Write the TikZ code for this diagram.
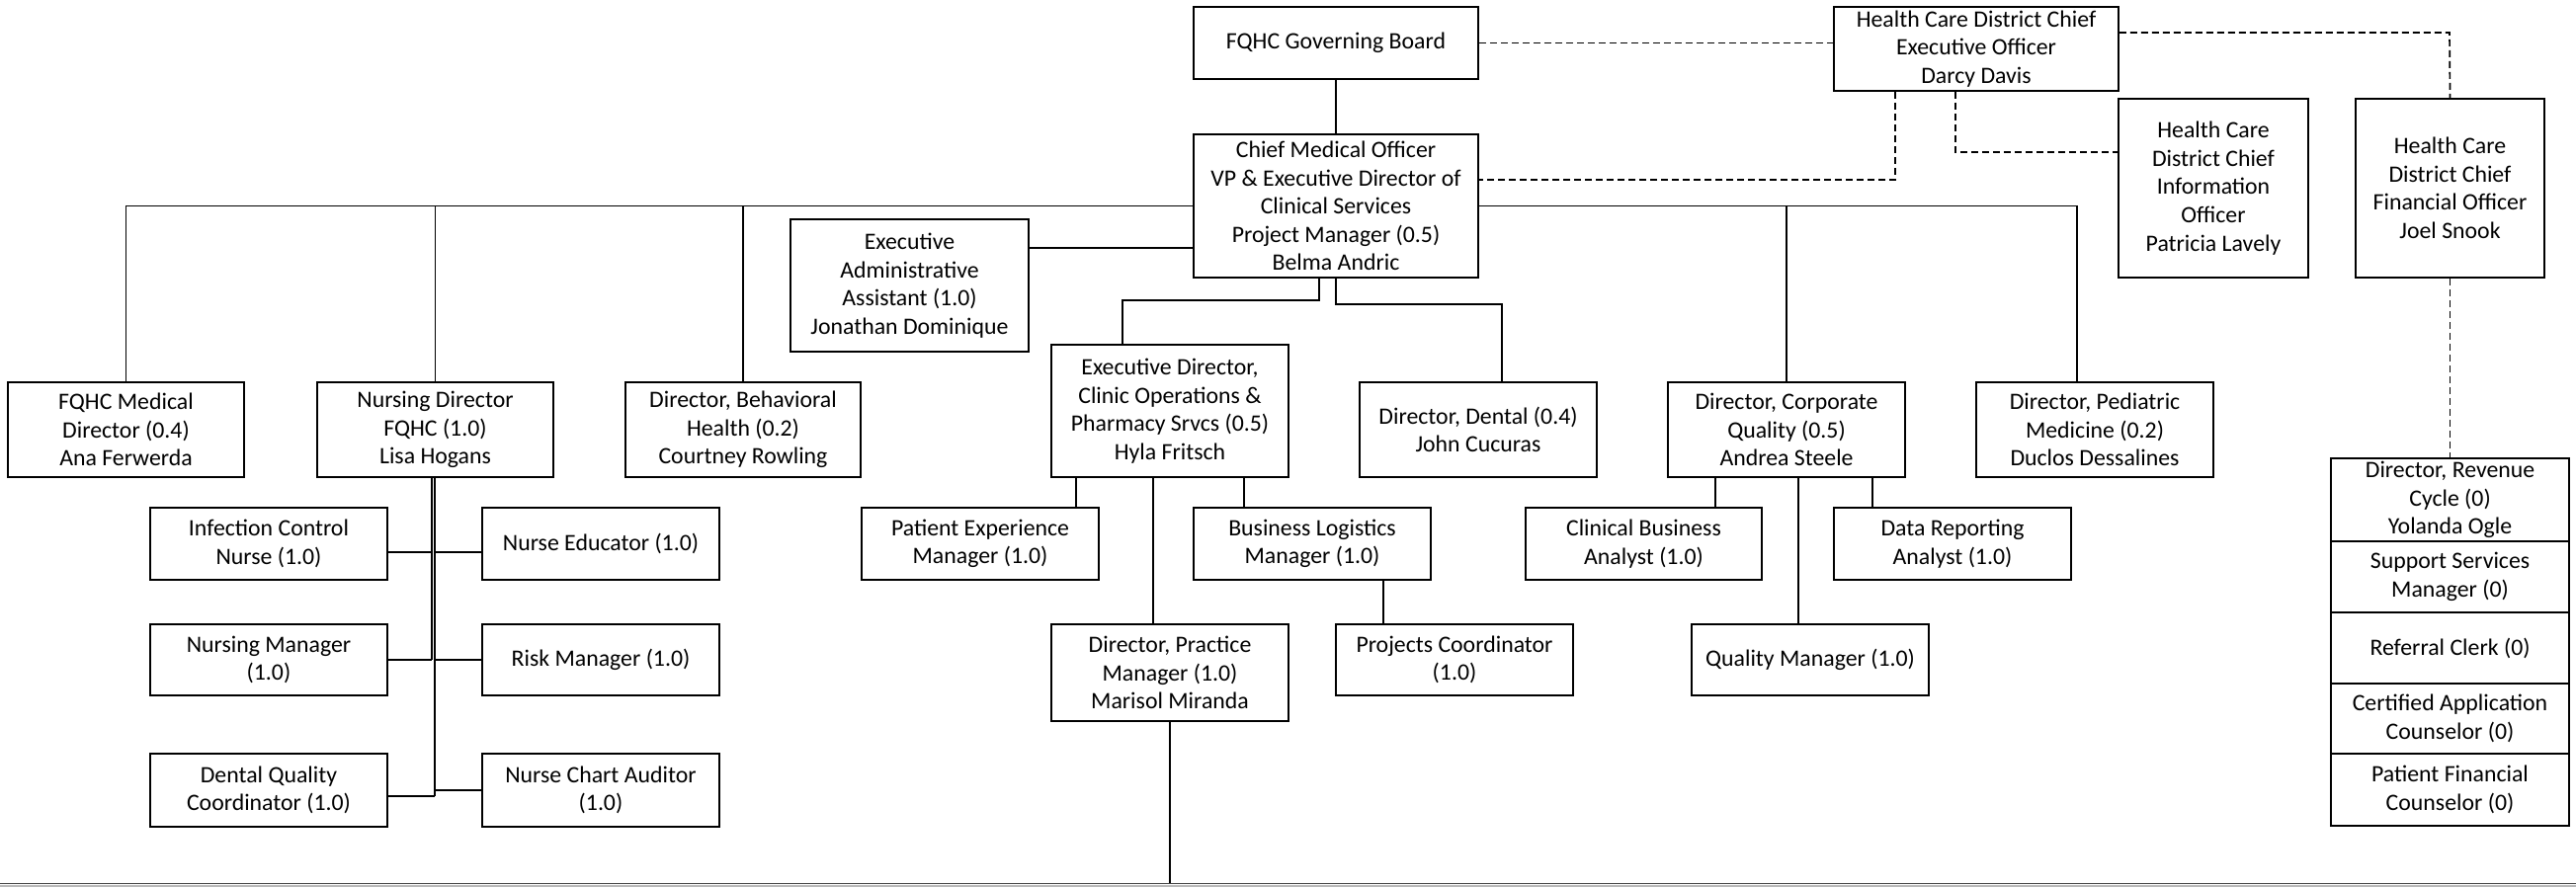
\documentclass[tikz,border=0pt]{standalone}
\usepackage{fontspec}
\setmainfont{Carlito}
\begin{document}
\begin{tikzpicture}[x=1pt,y=-1pt,
  box/.style={draw=black, line width=1.8pt, inner sep=0pt, align=center, fill=white,
    font=\fontsize{23.8}{28.6}\selectfont},
  conn/.style={draw=black, line width=1.7pt},
  dsh/.style={draw=black, line width=1.7pt, dash pattern=on 7pt off 4pt}]
\newcommand\orgbox[6]{\node[box, minimum width={#4-#2}, minimum height={#5-#3}] (#1) at ({(#2+#4)/2},{(#3+#5)/2}) {#6};}
\useasboundingbox (0,0) rectangle (2607,898);
\fill[white] (0,0) rectangle (2607,898);
% boxes
\orgbox{gov}{1208}{7}{1496}{80}{FQHC Governing Board}
\orgbox{cmo}{1208}{136}{1496}{281}{Chief Medical Officer\\VP \& Executive Director of\\Clinical Services\\Project Manager (0.5)\\Belma Andric}
\orgbox{ceo}{1856}{7}{2144}{92}{Health Care District Chief\\Executive Officer\\Darcy Davis}
\orgbox{cio}{2144}{100}{2336}{281}{Health Care\\District Chief\\Information\\Officer\\Patricia Lavely}
\orgbox{cfo}{2384}{100}{2575}{281}{Health Care\\District Chief\\Financial Officer\\Joel Snook}
\orgbox{eaa}{800}{222}{1041}{356}{Executive\\Administrative\\Assistant (1.0)\\Jonathan Dominique}
\orgbox{med}{8}{387}{247}{483}{FQHC Medical\\Director (0.4)\\Ana Ferwerda}
\orgbox{nur}{321}{387}{560}{483}{Nursing Director\\FQHC (1.0)\\Lisa Hogans}
\orgbox{beh}{633}{387}{871}{483}{Director, Behavioral\\Health (0.2)\\Courtney Rowling}
\orgbox{edc}{1064}{349}{1304}{483}{Executive Director,\\Clinic Operations \&\\Pharmacy Srvcs (0.5)\\Hyla Fritsch}
\orgbox{den}{1376}{387}{1616}{483}{Director, Dental (0.4)\\John Cucuras}
\orgbox{cq}{1688}{387}{1928}{483}{Director, Corporate\\Quality (0.5)\\Andrea Steele}
\orgbox{ped}{2000}{387}{2240}{483}{Director, Pediatric\\Medicine (0.2)\\Duclos Dessalines}
\orgbox{icn}{152}{514}{392}{587}{Infection Control\\Nurse (1.0)}
\orgbox{ned}{488}{514}{728}{587}{Nurse Educator (1.0)}
\orgbox{nm}{152}{632}{392}{704}{Nursing Manager\\(1.0)}
\orgbox{rm}{488}{632}{728}{704}{Risk Manager (1.0)}
\orgbox{dqc}{152}{763}{392}{837}{Dental Quality\\Coordinator (1.0)}
\orgbox{nca}{488}{763}{728}{837}{Nurse Chart Auditor\\(1.0)}
\orgbox{pem}{872}{514}{1112}{587}{Patient Experience\\Manager (1.0)}
\orgbox{blm}{1208}{514}{1448}{587}{Business Logistics\\Manager (1.0)}
\orgbox{dpm}{1064}{632}{1304}{730}{Director, Practice\\Manager (1.0)\\Marisol Miranda}
\orgbox{pc}{1352}{632}{1592}{704}{Projects Coordinator\\(1.0)}
\orgbox{cba}{1544}{514}{1783}{587}{Clinical Business\\Analyst (1.0)}
\orgbox{dra}{1856}{514}{2096}{587}{Data Reporting\\Analyst (1.0)}
\orgbox{qm}{1712}{632}{1952}{704}{Quality Manager (1.0)}
\orgbox{r1}{2359}{464}{2600}{548}{Director, Revenue\\Cycle (0)\\Yolanda Ogle}
\orgbox{r2}{2359}{548}{2600}{620}{Support Services\\Manager (0)}
\orgbox{r3}{2359}{620}{2600}{692}{Referral Clerk (0)}
\orgbox{r4}{2359}{692}{2600}{763}{Certified Application\\Counselor (0)}
\orgbox{r5}{2359}{763}{2600}{836}{Patient Financial\\Counselor (0)}
% helper coordinates
\coordinate (pedx) at (2102,0);
\coordinate (a1) at (1041,251);
\coordinate (k1) at (1136,304);
\coordinate (k0) at (1335,0);
\coordinate (k2) at (1520,308);
\coordinate (n1) at (437,0);
\coordinate (n2) at (440,0);
\coordinate (y1) at (0,559);
\coordinate (y3) at (0,806);
\coordinate (e1) at (1089,0);
\coordinate (e2) at (1167,0);
\coordinate (e3) at (1259,0);
\coordinate (b1) at (1400,0);
\coordinate (q1) at (1736,0);
\coordinate (q2) at (1820,0);
\coordinate (q3) at (1895,0);
\coordinate (bot) at (1184,895);
\coordinate (d1) at (2479,33);
\coordinate (d2) at (1918,182);
\coordinate (d3) at (1979,154);
% solid connectors
\begin{scope}[conn]
\draw (gov.south) -- (cmo.north);
\draw (cmo.west) -| (med.north);
\draw (nur.north) -- (nur.north |- cmo.west);
\draw (beh.north) -- (beh.north |- cmo.west);
\draw (cmo.east) -| (pedx |- ped.north);
\draw (cq.north) -- (cq.north |- cmo.east);
\draw (eaa.east |- a1) -- (cmo.west |- a1);
\draw (k0 |- cmo.south) |- (k1) -- (k1 |- edc.north);
\draw (cmo.south) |- (k2) -- (k2 |- den.north);
% nursing subtree
\draw (n1 |- nur.south) -- (n1 |- nm.east);
\draw (n2 |- nur.south) -- (n2 |- y3);
\draw (icn.east |- y1) -- (n1 |- y1);
\draw (nm.east) -- (n1 |- nm.east);
\draw (dqc.east |- y3) -- (n2 |- y3);
\draw (ned.west |- y1) -- (n2 |- y1);
\draw (rm.west) -- (n2 |- rm.west);
\draw (nca.west) -- (n2 |- nca.west);
% clinic ops subtree
\draw (e1 |- edc.south) -- (e1 |- pem.north);
\draw (e2 |- edc.south) -- (e2 |- dpm.north);
\draw (e3 |- edc.south) -- (e3 |- blm.north);
\draw (b1 |- blm.south) -- (b1 |- pc.north);
\draw (dpm.south) -- (bot);
% quality subtree
\draw (q1 |- cq.south) -- (q1 |- cba.north);
\draw (q2 |- cq.south) -- (q2 |- qm.north);
\draw (q3 |- cq.south) -- (q3 |- dra.north);
\end{scope}
% dashed connectors
\begin{scope}[dsh]
\draw (gov.east) -- (ceo.west |- gov.east);
\draw (ceo.east |- d1) -- (d1) -- (cfo.north);
\draw (d2 |- ceo.south) -- (d2) -- (cmo.east |- d2);
\draw (d3 |- ceo.south) -- (d3) -- (cio.west |- d3);
\draw (cfo.south) -- (r1.north);
\end{scope}
% bottom rule
\draw[line width=1.5pt, black!75] (0,894.5) -- (2607,894.5);
\fill[gray!55] (0,896) rectangle (2607,898);
\end{tikzpicture}
\end{document}
